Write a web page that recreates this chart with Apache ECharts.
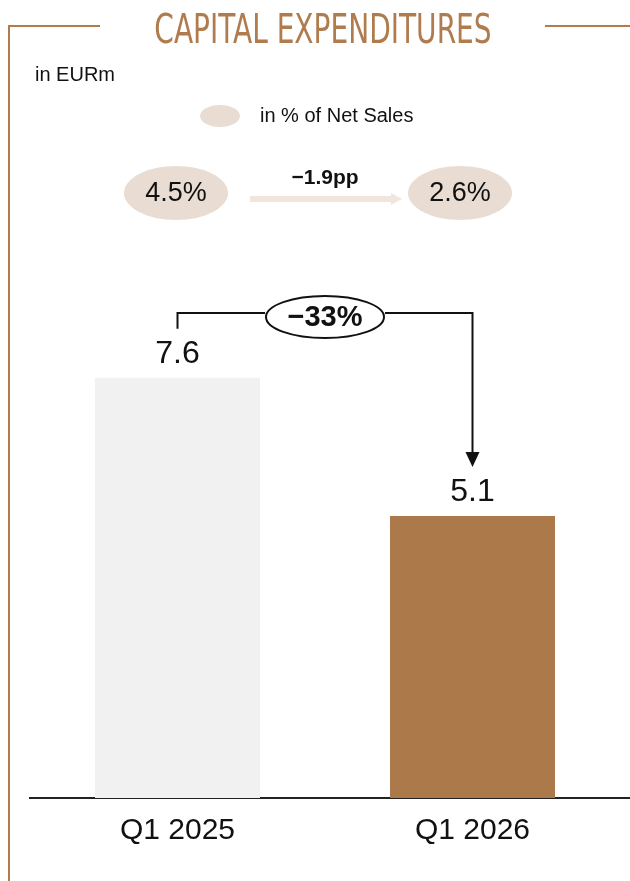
<!DOCTYPE html>
<html>
<head>
<meta charset="utf-8">
<script src="https://cdn.jsdelivr.net/npm/echarts@6/dist/echarts.min.js"></script>
<style>
  html, body { margin: 0; padding: 0; background: #fff; }
  #chart { width: 630px; height: 881px; }
</style>
</head>
<body>
<div id="chart"></div>
<script>
// Quarterly capital expenditures (EUR millions)
const categories = ['Q1 2025', 'Q1 2026'];
const capex = [7.6, 5.1];
// Capex as a share of net sales (%)
const pctOfSales = [4.5, 2.6];
const pctChangeLabel = '\u22121.9pp';
const capexChangeLabel = '\u221233%';

const barColors = ['#f1f1f1', '#ac794b'];
const BROWN = '#b07c4e';
const BEIGE = '#e9ddd3';
const ARROW_BEIGE = '#f1e6dd';
const FONT = '"Liberation Sans", Arial, sans-serif';
const NARROW = '"Liberation Sans Narrow", "DejaVu Sans Condensed", sans-serif';

const chart = echarts.init(document.getElementById('chart'), null, { renderer: 'canvas' });

chart.setOption({
  animation: false,
  grid: { left: 30, right: 10, top: 245, bottom: 83 },
  xAxis: {
    type: 'category',
    data: categories,
    axisLine: { show: false },
    axisTick: { show: false },
    axisLabel: { margin: 18, fontSize: 30, color: '#111', fontFamily: FONT }
  },
  yAxis: { type: 'value', min: 0, max: 10, show: false },
  series: [{
    type: 'bar',
    barWidth: 165,
    data: capex.map((v, i) => ({ value: v, itemStyle: { color: barColors[i] } })),
    label: {
      show: true, position: 'top', distance: 8,
      fontSize: 32, color: '#111', fontFamily: FONT
    }
  }]
});

const p0 = chart.convertToPixel({ seriesIndex: 0 }, [0, capex[0]]);
const p1 = chart.convertToPixel({ seriesIndex: 0 }, [1, capex[1]]);
const base = chart.convertToPixel({ seriesIndex: 0 }, [0, 0]);

const bracketY = 313;
const midX = (p0[0] + p1[0]) / 2;
const tipY = p1[1] - 49;
const pctX = [176, 460];
const pctY = 193;

const graphics = [
  // frame
  { type: 'polyline', shape: { points: [[100, 26], [9, 26], [9, 881]] },
    style: { stroke: BROWN, lineWidth: 2, fill: null } },
  { type: 'line', shape: { x1: 545, y1: 26, x2: 630, y2: 26 },
    style: { stroke: BROWN, lineWidth: 2 } },
  // title
  { type: 'text', x: 323, y: 32, scaleX: 0.76,
    style: { text: 'CAPITAL EXPENDITURES', fontFamily: NARROW, fontSize: 41,
      fill: BROWN, align: 'center', verticalAlign: 'middle' } },
  // unit
  { type: 'text', x: 35, y: 75,
    style: { text: 'in EURm', fontFamily: FONT, fontSize: 20, fill: '#111',
      align: 'left', verticalAlign: 'middle' } },
  // legend
  { type: 'ellipse', shape: { cx: 220, cy: 116, rx: 20, ry: 11 }, style: { fill: BEIGE } },
  { type: 'text', x: 260, y: 116,
    style: { text: 'in % of Net Sales', fontFamily: FONT, fontSize: 20, fill: '#111',
      align: 'left', verticalAlign: 'middle' } },
  // share-of-sales bubbles
  ...pctOfSales.flatMap((v, i) => [
    { type: 'ellipse', shape: { cx: pctX[i], cy: pctY, rx: 52, ry: 27 }, style: { fill: BEIGE } },
    { type: 'text', x: pctX[i], y: pctY + 1,
      style: { text: v.toFixed(1) + '%', fontFamily: FONT, fontSize: 27, fill: '#111',
        align: 'center', verticalAlign: 'middle' } }
  ]),
  // change arrow between bubbles
  { type: 'line', shape: { x1: 250, y1: 199, x2: 392, y2: 199 },
    style: { stroke: ARROW_BEIGE, lineWidth: 6 } },
  { type: 'polygon', shape: { points: [[391, 193], [402, 199], [391, 205]] },
    style: { fill: ARROW_BEIGE } },
  { type: 'text', x: 325, y: 178,
    style: { text: pctChangeLabel, fontFamily: FONT, fontSize: 21, fontWeight: 'bold',
      fill: '#111', align: 'center', verticalAlign: 'middle' } },
  // baseline
  { type: 'line', shape: { x1: 29, y1: base[1], x2: 630, y2: base[1] },
    style: { stroke: '#222', lineWidth: 2 } },
  // year-over-year bracket
  { type: 'polyline', shape: { points: [[p0[0], p0[1] - 49], [p0[0], bracketY], [midX - 60, bracketY]] },
    style: { stroke: '#111', lineWidth: 2, fill: null } },
  { type: 'polyline', shape: { points: [[midX + 60, bracketY], [p1[0], bracketY], [p1[0], tipY - 12]] },
    style: { stroke: '#111', lineWidth: 2, fill: null } },
  { type: 'polygon', shape: { points: [[p1[0] - 7, tipY - 15], [p1[0] + 7, tipY - 15], [p1[0], tipY]] },
    style: { fill: '#111' } },
  { type: 'ellipse', shape: { cx: midX, cy: 317, rx: 59, ry: 21 },
    style: { fill: '#fff', stroke: '#111', lineWidth: 2 } },
  { type: 'text', x: midX, y: 318,
    style: { text: capexChangeLabel, fontFamily: FONT, fontSize: 29, fontWeight: 'bold',
      fill: '#111', align: 'center', verticalAlign: 'middle' } }
];

chart.setOption({ graphic: graphics });
</script>
</body>
</html>
